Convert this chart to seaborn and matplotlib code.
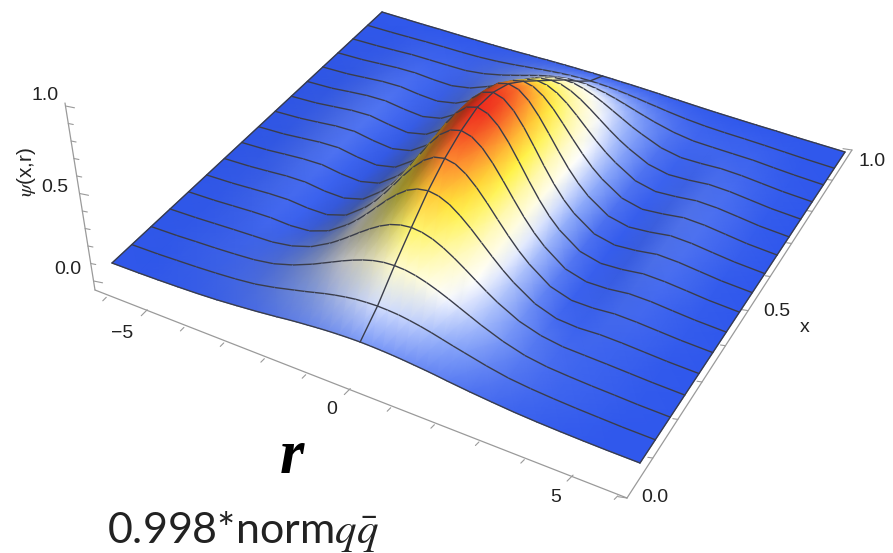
import numpy as np
import pandas as pd
import seaborn as sns
import matplotlib.pyplot as plt

# values: |r| columns, one list per x slice (x = k/16)
r_abs = [0, 0.25, 0.5, 0.75, 1, 1.25, 1.5, 1.75, 2, 2.5, 3, 3.5, 4, 4.5, 5, 5.5, 6.2]
x_slices = [k / 16 for k in range(17)]
psi_00 = [.080, .079, .077, .074, .070, .065, .060, .054, .047, .035, .025, .016, .010, .006, .003, .001, 0]
psi_01 = [.160, .158, .154, .146, .136, .124, .110, .096, .083, .057, .036, .024, .016, .010, .006, .002, 0]
psi_02 = [.265, .262, .252, .236, .216, .193, .168, .143, .118, .075, .043, .026, .018, .012, .008, .003, 0]
psi_03 = [.360, .354, .338, .312, .279, .242, .203, .165, .130, .073, .039, .022, .018, .014, .009, .004, 0]
psi_04 = [.450, .441, .417, .378, .331, .278, .225, .175, .131, .060, .022, .014, .019, .016, .010, .004, 0]
psi_05 = [.520, .509, .476, .426, .365, .299, .235, .176, .126, .048, .014, .013, .022, .019, .012, .005, 0]
psi_06 = [.570, .556, .517, .457, .385, .309, .236, .172, .119, .040, .010, .012, .025, .023, .014, .006, 0]
psi_07 = [.600, .584, .540, .473, .393, .310, .232, .164, .110, .034, .008, .014, .029, .026, .017, .007, 0]
psi_08 = [.590, .574, .529, .461, .381, .298, .221, .155, .103, .030, .007, .016, .033, .029, .018, .007, 0]
psi_09 = [.550, .536, .495, .433, .360, .284, .212, .151, .101, .031, .008, .018, .035, .031, .019, .008, 0]
psi_10 = [.480, .468, .435, .385, .324, .260, .199, .144, .100, .033, .009, .020, .036, .032, .020, .008, 0]
psi_11 = [.400, .391, .366, .328, .281, .230, .180, .135, .097, .035, .012, .020, .033, .030, .019, .007, 0]
psi_12 = [.320, .314, .295, .266, .230, .191, .152, .116, .085, .034, .013, .018, .029, .026, .016, .006, 0]
psi_13 = [.240, .236, .223, .204, .180, .153, .126, .099, .076, .035, .016, .018, .024, .021, .013, .005, 0]
psi_14 = [.150, .148, .141, .131, .118, .103, .087, .072, .057, .033, .019, .017, .016, .015, .009, .004, 0]
psi_15 = [.070, .069, .067, .063, .058, .052, .045, .039, .032, .021, .014, .011, .010, .008, .005, .002, 0]
psi_16 = [.015, .015, .014, .014, .013, .012, .011, .009, .008, .005, .003, .002, .001, .001, 0, 0, 0]

r_ticks = list(range(-6, 7))
x_ticks = [k / 10 for k in range(11)]
z_ticks = [k / 10 for k in range(11)]

psi_half = np.array([psi_00, psi_01, psi_02, psi_03, psi_04, psi_05, psi_06, psi_07, psi_08,
                     psi_09, psi_10, psi_11, psi_12, psi_13, psi_14, psi_15, psi_16])
# the wave function only depends on |r|
psi = np.hstack([psi_half[:, :0:-1], psi_half])
r_all = np.hstack([-np.array(r_abs)[:0:-1], r_abs])
x_all = np.array(x_slices)

sns.set_theme(style='white')
plt.rcParams['font.family'] = ['Liberation Sans', 'DejaVu Sans']
plt.rcParams['mathtext.fontset'] = 'stix'

W, H = 893, 553
fig = plt.figure(figsize=(W / 100, H / 100), dpi=100)
ax = fig.add_axes([0, 0, 1, 1])
ax.set(xlim=(0, W), ylim=(H, 0))
ax.set_autoscale_on(False)
ax.axis('off')

# camera: floor homography from the four surface corners + vertical vanishing point
R0 = r_abs[-1]
src = [(-R0, 0), (R0, 0), (R0, 1), (-R0, 1)]
dst = [(112, 263), (640, 463), (845, 152), (382, 12)]
A, b = [], []
for (u, v), (p, q) in zip(src, dst):
    A.append([u, v, 1, 0, 0, 0, -u * p, -v * p])
    A.append([0, 0, 0, u, v, 1, -u * q, -v * q])
    b += [p, q]
h = np.linalg.solve(np.array(A, float), np.array(b, float))
w0 = h[6] * (-R0) + 1
s = -0.075 * w0
col_z = s * np.array([480, 2750, 1.0])


def project(r, x, z):
    r, x, z = np.broadcast_arrays(np.asarray(r, float), np.asarray(x, float), np.asarray(z, float))
    w = h[6] * r + h[7] * x + 1 + col_z[2] * z
    return ((h[0] * r + h[1] * x + h[2] + col_z[0] * z) / w,
            (h[3] * r + h[4] * x + h[5] + col_z[1] * z) / w)


# colour: height map with some shading on the side turned away
cmap = sns.blend_palette(['#3058ec', '#8eaafa', '#ffffff', '#fff9b0', '#fff23c', '#ff9a32', '#ee2a1e'],
                         n_colors=256, as_cmap=True)
rgba = cmap(np.clip(psi / 0.6, 0, 1))
slope = np.gradient(psi, r_all, axis=1)
shade = 1 - np.clip(2.6 * slope, 0, 0.4)
rgba[..., :3] *= shade[..., None]

line_col = '#3a3d4a'
px, py = project(r_all[None, :], x_all[:, None], psi)
n_row = len(x_all)

# back to front: from the far r side to the near one, far x rows first
for j in range(len(r_all) - 1):
    # quad split in four around its centre so the colour ramps do not zigzag
    cx = px[:-1, j:j + 2].mean(axis=1) / 2 + px[1:, j:j + 2].mean(axis=1) / 2
    cy = py[:-1, j:j + 2].mean(axis=1) / 2 + py[1:, j:j + 2].mean(axis=1) / 2
    cc = rgba[:-1, j:j + 2].mean(axis=1) / 2 + rgba[1:, j:j + 2].mean(axis=1) / 2
    spx = np.r_[px[:, j:j + 2].ravel(), cx]
    spy = np.r_[py[:, j:j + 2].ravel(), cy]
    tris = []
    for k in range(n_row - 2, -1, -1):
        a = 2 * k
        c = 2 * n_row + k
        tris += [[a + 2, a + 3, c], [a, a + 2, c], [a + 1, a + 3, c], [a, a + 1, c]]
    mesh = ax.tripcolor(spx, spy, np.array(tris), np.zeros(len(spx)), shading='gouraud', zorder=10 + 2 * j)
    mesh.set_array(None)
    mesh.set_facecolor(np.vstack([rgba[:, j:j + 2].reshape(-1, 4), cc]))

    seg = pd.DataFrame({'px': px[:, j:j + 2].ravel(), 'py': py[:, j:j + 2].ravel(),
                        'row': np.repeat(np.arange(n_row), 2)})
    sns.lineplot(data=seg, x='px', y='py', units='row', estimator=None, sort=False, color=line_col,
                 lw=1.0, zorder=11 + 2 * j, ax=ax, legend=False)

# slice at r = 0 and the two side edges
mid = len(r_abs) - 1
for col, zo in [(0, 12), (mid, 12 + 2 * mid), (len(r_all) - 1, 200)]:
    sns.lineplot(x=px[:, col], y=py[:, col], estimator=None, sort=False, color=line_col, lw=1.0,
                 zorder=zo, ax=ax, legend=False)

# axes of the box
ax_col = '#9a9a9a'
ax.plot([95, 627], [290, 498], color=ax_col, lw=0.9, zorder=1)
ax.plot([627, 852], [498, 150], color=ax_col, lw=0.9, zorder=1)
ax.plot([95, 65], [290, 103], color=ax_col, lw=0.9, zorder=1)

tx, ty = project(np.array(r_ticks, float), -0.06, -0.09)
for t, a, b_ in zip(r_ticks, tx, ty):
    d = 6 if t % 5 == 0 else 3.5
    ax.plot([a, a + d], [b_, b_ - d], color=ax_col, lw=0.8, zorder=1)
for t in x_ticks:
    f = 1.167 * t / (1 + 0.167 * t)
    a, b_ = 627 + 225 * f, 498 - 348 * f
    d = 9 if round(t * 10) % 5 == 0 else 5
    ax.plot([a, a - d], [b_, b_ - d * 0.15], color=ax_col, lw=0.8, zorder=1)
for t in z_ticks:
    b_ = 281 - 175 * t
    a = 95 - 30 * (290 - b_) / 187
    d = 9 if round(t * 10) % 5 == 0 else 5
    ax.plot([a, a + d], [b_, b_ + d * 0.2], color=ax_col, lw=0.8, zorder=1)

# labels
lab = dict(fontsize=14, color='#222222', ha='center', va='center', zorder=300)
for s_, a, b_ in [('\u22125', 122, 333), ('0', 332, 410), ('5', 556, 497),
                  ('0.0', 655, 497), ('0.5', 777, 312), ('1.0', 872, 162),
                  ('0.0', 68, 270), ('0.5', 55, 187), ('1.0', 45, 96), ('x', 805, 328)]:
    ax.text(a, b_, s_, **lab)
ax.text(27, 172, r'$\psi$(x,r)', rotation=90, fontsize=15, color='#222222', ha='center', va='center', zorder=300)
ax.text(292, 458, 'r', family='Liberation Serif', style='italic', weight='bold', fontsize=45,
        color='black', ha='center', va='center', zorder=300)
ax.text(107, 531, r'0.998*norm$q\bar{q}$', family='Lato', fontsize=31, color='#222222',
        ha='left', va='center', zorder=300)

fig.savefig('out.png', dpi=100)
